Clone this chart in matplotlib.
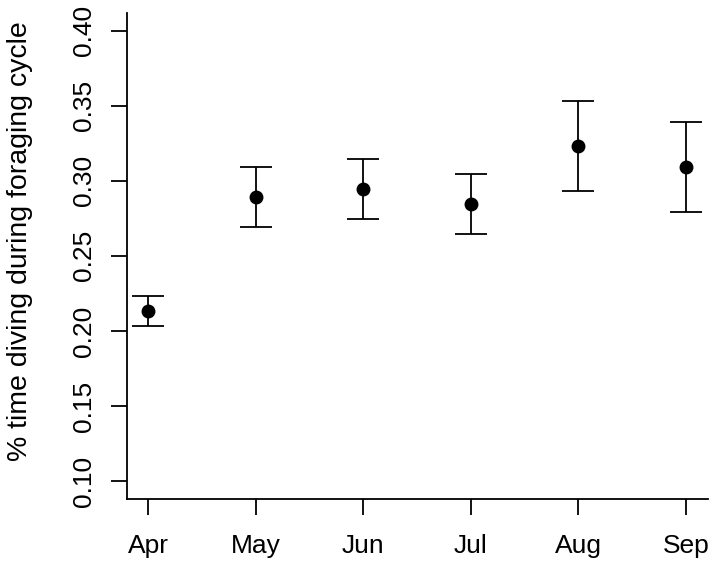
import numpy as np
import matplotlib
matplotlib.use("Agg")
import matplotlib.pyplot as plt

# Monthly means with error bar half-widths
months = ["Apr", "May", "Jun", "Jul", "Aug", "Sep"]
means = [0.213, 0.2895, 0.2945, 0.2843, 0.323, 0.309]
errors = [0.010, 0.020, 0.020, 0.020, 0.030, 0.030]
yticks = [0.10, 0.15, 0.20, 0.25, 0.30, 0.35, 0.40]

plt.rcParams["font.family"] = ["Liberation Sans", "DejaVu Sans"]

W, H = 715, 568
fig = plt.figure(figsize=(W / 100, H / 100), dpi=100)
ax = fig.add_axes([126.7 / W, 1 - 499 / H, (707.5 - 126.7) / W, (499 - 12.7) / H])

x = np.arange(1, len(months) + 1)
ax.errorbar(x, means, yerr=errors, fmt="o", color="black", markersize=9,
            ecolor="black", elinewidth=1.3, capsize=11.5, capthick=1.3)

ax.set_xlim(0.8, 6.2)
ax.set_ylim(0.088, 0.412)
ax.set_xticks(x)
ax.set_xticklabels(months)
ax.set_yticks(yticks)
ax.set_yticklabels(["%.2f" % t for t in yticks], rotation=90, va="center")

for side in ["top", "right"]:
    ax.spines[side].set_visible(False)
for side in ["left", "bottom"]:
    ax.spines[side].set_linewidth(1.3)

ax.tick_params(axis="both", length=11.3, width=1.3, labelsize=19, color="black")
ax.tick_params(axis="x", pad=14)
ax.tick_params(axis="y", pad=11)

ax.set_ylabel("% time diving during foraging cycle", fontsize=20.5)
ax.yaxis.set_label_coords(-0.161, 0.53)

fig.savefig("out.png", dpi=100)
